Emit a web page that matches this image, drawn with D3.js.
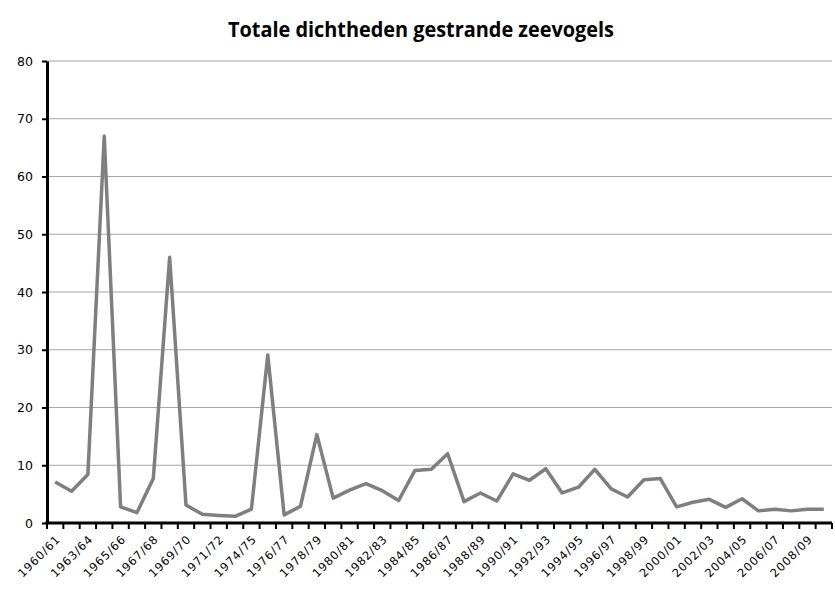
<!DOCTYPE html>
<html>
<head>
<meta charset="utf-8">
<script src="https://cdn.jsdelivr.net/npm/d3@7"></script>
<style>
  body { margin: 0; background: #fff; }
  svg { display: block; }
</style>
</head>
<body>
<div id="chart"></div>
<script>
// seasons (two seasons are missing in the series: 61/62-63/64 and 71/72-74/75 gaps)
const seasons = [
  "1960/61", "1961/62", "1963/64", "1964/65", "1965/66", "1966/67", "1967/68", "1968/69",
  "1969/70", "1970/71", "1971/72", "1972/73", "1974/75", "1975/76", "1976/77", "1977/78",
  "1978/79", "1979/80", "1980/81", "1981/82", "1982/83", "1983/84", "1984/85", "1985/86",
  "1986/87", "1987/88", "1988/89", "1989/90", "1990/91", "1991/92", "1992/93", "1993/94",
  "1994/95", "1995/96", "1996/97", "1997/98", "1998/99", "1999/00", "2000/01", "2001/02",
  "2002/03", "2003/04", "2004/05", "2005/06", "2006/07", "2007/08", "2008/09", "2009/10"
];

// total density of stranded seabirds
const density = [
  7.1, 5.5, 8.4, 67, 2.8, 1.8, 7.7, 46,
  3.1, 1.5, 1.3, 1.15, 2.4, 29.1, 1.4, 2.9,
  15.3, 4.3, 5.7, 6.8, 5.6, 3.9, 9.1, 9.3,
  12.0, 3.7, 5.2, 3.8, 8.5, 7.4, 9.4, 5.2,
  6.2, 9.3, 5.9, 4.5, 7.5, 7.7, 2.8, 3.6,
  4.1, 2.7, 4.2, 2.1, 2.4, 2.1, 2.4, 2.4
];

const yTicks = [0, 10, 20, 30, 40, 50, 60, 70, 80];

// ---------------------------------------------------------------------------
// SVG setup
// ---------------------------------------------------------------------------
const W = 835, H = 596;
const plot = { left: 47, right: 832, top: 61, bottom: 523 };

const svg = d3.select("#chart")
  .append("svg")
  .attr("width", W)
  .attr("height", H);

const x = d3.scaleBand()
  .domain(seasons)
  .range([plot.left, plot.right]);

const y = d3.scaleLinear()
  .domain([0, 80])
  .range([plot.bottom, plot.top]);

// title
svg.append("text")
  .attr("x", 421)
  .attr("y", 37)
  .attr("text-anchor", "middle")
  .attr("textLength", 386)
  .attr("lengthAdjust", "spacingAndGlyphs")
  .style("font-family", "'Open Sans', sans-serif")
  .style("font-weight", "bold")
  .style("font-size", "22px")
  .text("Totale dichtheden gestrande zeevogels");

// gridlines
svg.append("g")
  .selectAll("line")
  .data(yTicks.filter(d => d > 0))
  .join("line")
  .attr("x1", plot.left)
  .attr("x2", plot.right)
  .attr("y1", d => y(d))
  .attr("y2", d => y(d))
  .attr("stroke", "#a6a6a6")
  .attr("stroke-width", 1);

// y axis
const yAxis = svg.append("g")
  .attr("transform", `translate(${plot.left},0)`)
  .call(d3.axisLeft(y).tickValues(yTicks).tickSize(5).tickSizeOuter(0).tickPadding(9));
yAxis.select(".domain").attr("stroke", "#000").attr("stroke-width", 3);
yAxis.selectAll(".tick line").attr("stroke", "#000").attr("stroke-width", 2);
yAxis.selectAll("text")
  .style("font-family", "'DejaVu Sans', sans-serif")
  .style("font-size", "12.5px")
  .attr("fill", "#000");

// x axis: ticks between categories
const xEdges = seasons.map(s => x(s)).concat([plot.right]);
svg.append("g")
  .selectAll("line")
  .data(xEdges)
  .join("line")
  .attr("x1", d => d)
  .attr("x2", d => d)
  .attr("y1", plot.bottom)
  .attr("y2", plot.bottom + 6)
  .attr("stroke", "#000")
  .attr("stroke-width", 2);

svg.append("line")
  .attr("x1", plot.left - 1.5)
  .attr("x2", plot.right)
  .attr("y1", plot.bottom)
  .attr("y2", plot.bottom)
  .attr("stroke", "#000")
  .attr("stroke-width", 3);

// x labels, every second season
svg.append("g")
  .selectAll("text")
  .data(seasons.filter((s, i) => i % 2 === 0))
  .join("text")
  .attr("transform", d => `translate(${x(d) + x.bandwidth() / 2 + 3},${plot.bottom + 14}) rotate(-45)`)
  .attr("text-anchor", "end")
  .attr("dy", "0.35em")
  .style("font-family", "'DejaVu Sans', sans-serif")
  .style("font-size", "11.5px")
  .style("letter-spacing", "0.9px")
  .text(d => d);

// line
const line = d3.line()
  .x((d, i) => x(seasons[i]) + x.bandwidth() / 2)
  .y(d => y(d));

svg.append("path")
  .datum(density)
  .attr("fill", "none")
  .attr("stroke", "#7f7f7f")
  .attr("stroke-width", 3.5)
  .attr("stroke-linejoin", "round")
  .attr("d", line);
</script>
</body>
</html>
